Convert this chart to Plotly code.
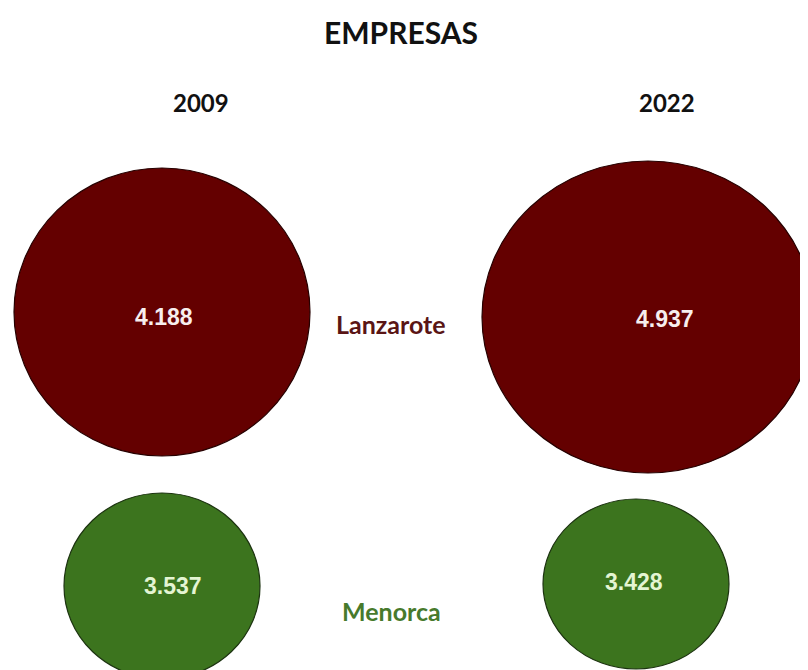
import plotly.graph_objects as go

# ---------------- data ----------------
title_text = "EMPRESAS"
years = ["2009", "2022"]
islands = ["Lanzarote", "Menorca"]
empresas_2009 = [4188, 3537]
empresas_2022 = [4937, 3428]

# ---------------- layout / style constants (pixels, window coords) ----------------
OFF = 8                   # page body margin: figure origin sits at (8, 8) in the window
WIN_W, WIN_H = 808, 670
W, H = WIN_W - OFF, WIN_H - OFF   # figure size so the page needs no scrolling
col_px = {"Lanzarote": (162, 648), "Menorca": (162, 636)}   # circle centres per column
row_px = (315, 585)                                           # row centres (from top)
# (rx, ry, dy) ellipse half-sizes and vertical centre offset (screen px, down +)
ellipse_style = {
    ("Lanzarote", "2009"): (148, 144, -3),
    ("Lanzarote", "2022"): (166, 156, 2),
    ("Menorca", "2009"): (98, 93, 1),
    ("Menorca", "2022"): (93, 85, -1),
}
# value label nudges (xshift, yshift) in px
label_shift = {
    ("Lanzarote", "2009"): (2, -2),
    ("Lanzarote", "2022"): (17, -4),
    ("Menorca", "2009"): (11, -1),
    ("Menorca", "2022"): (-2, 3),
}
fill = {"Lanzarote": "#640000", "Menorca": "#3c741e"}
edge = {"Lanzarote": "#260000", "Menorca": "#1c3310"}
value_font_color = {"Lanzarote": "#f7eeee", "Menorca": "#e4f5d2"}
island_label_color = {"Lanzarote": "#5a1515", "Menorca": "#477a2c"}
island_label_x = 391
island_label_dy = {"Lanzarote": 9, "Menorca": 26}
year_label_y = 102
year_label_dx = {"2009": 39, "2022": 19}
title_xy = (401, 33)
TITLE_FONT = "Lato"
NUM_FONT = "Liberation Sans"


def axis_range(p0, p1, length):
    """range so that index 0 -> p0 px and index 1 -> p1 px (from axis start)."""
    s = p1 - p0
    r0 = -p0 / s
    return [r0, r0 + length / s]


def fx(px):  # window x -> figure x
    return px - OFF


def fy(py):  # window y (from top) -> figure y from bottom
    return H - (py - OFF)


values = {"2009": empresas_2009, "2022": empresas_2022}


def fmt(v):
    return f"{v:,}".replace(",", ".")


fig = go.Figure()
shapes, annotations = [], []
for j, isl in enumerate(islands):
    xref = "x" if j == 0 else "x2"
    vals = [values[y][j] for y in years]
    fig.add_trace(go.Scatter(
        x=years, y=[isl] * len(years), mode="markers",
        marker=dict(size=10, opacity=0), xaxis=xref, yaxis="y",
        customdata=vals, hovertemplate="%{y} %{x}: %{customdata:,}<extra></extra>",
        showlegend=False))
    for i, yr in enumerate(years):
        rx, ry, dy = ellipse_style[(isl, yr)]
        shapes.append(dict(
            type="circle", xref=xref, yref="y",
            xsizemode="pixel", ysizemode="pixel",
            xanchor=i, yanchor=j,
            x0=-rx, x1=rx, y0=-ry - dy, y1=ry - dy,
            fillcolor=fill[isl], line=dict(color=edge[isl], width=1.2),
            layer="below"))
        xs, ys = label_shift[(isl, yr)]
        annotations.append(dict(
            x=i, y=j, xref=xref, yref="y", text=f"<b>{fmt(values[yr][j])}</b>",
            showarrow=False, xshift=xs, yshift=ys,
            font=dict(family=NUM_FONT, size=23, color=value_font_color[isl])))
    annotations.append(dict(
        x=fx(island_label_x) / W, xref="paper", y=j, yref="y",
        text=f"<b>{isl}</b>", showarrow=False, yshift=-island_label_dy[isl],
        font=dict(family=TITLE_FONT, size=25, color=island_label_color[isl])))

for i, yr in enumerate(years):
    annotations.append(dict(
        x=i, xref="x", y=fy(year_label_y) / H, yref="paper", yanchor="middle",
        text=f"<b>{yr}</b>", showarrow=False, xshift=year_label_dx[yr],
        font=dict(family=TITLE_FONT, size=24, color="#111111")))

hidden = dict(visible=False, showgrid=False, zeroline=False, showticklabels=False)
fig.update_layout(
    width=W, height=H,
    margin=dict(l=0, r=0, t=0, b=0),
    paper_bgcolor="white", plot_bgcolor="white",
    title=dict(text=f"<b>{title_text}</b>", x=fx(title_xy[0]) / W,
               y=fy(title_xy[1]) / H,
               xanchor="center", yanchor="middle",
               font=dict(family=TITLE_FONT, size=30, color="#111111")),
    xaxis=dict(type="category", categoryarray=years, domain=[0, 1],
               range=axis_range(fx(col_px["Lanzarote"][0]), fx(col_px["Lanzarote"][1]), W),
               **hidden),
    xaxis2=dict(type="category", categoryarray=years, overlaying="x",
                range=axis_range(fx(col_px["Menorca"][0]), fx(col_px["Menorca"][1]), W),
                **hidden),
    yaxis=dict(type="category", categoryarray=islands, domain=[0, 1],
               range=axis_range(fy(row_px[0]), fy(row_px[1]), H), **hidden),
    shapes=shapes, annotations=annotations,
    showlegend=False,
)

fig.write_html("out.html")
